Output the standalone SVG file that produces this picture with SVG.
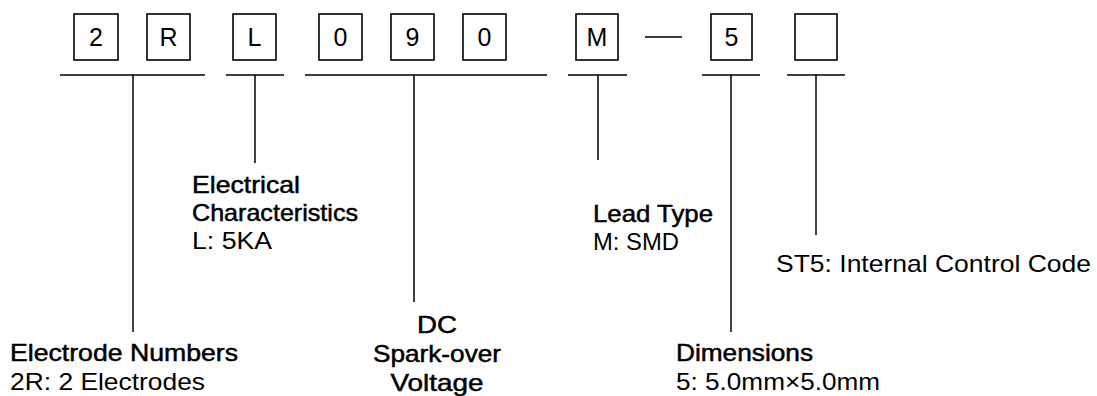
<svg xmlns="http://www.w3.org/2000/svg" width="1097" height="396" viewBox="0 0 1097 396">
<style>
.box{fill:none;stroke:#000;stroke-width:1.6}
.ln{stroke:#000;stroke-width:1.5;fill:none}
.code{font-family:"Liberation Sans",Arial,sans-serif;font-size:25px;fill:#000;text-anchor:middle}
.t{font-family:"Liberation Sans",Arial,sans-serif;font-size:24px;fill:#000;stroke:#000;stroke-width:0.5}
.v{font-family:"Liberation Sans",Arial,sans-serif;font-size:24px;fill:#000}
</style>
<rect width="1097" height="396" fill="#fff"/>
<g id="box-2"><rect class="box" x="74" y="14" width="44" height="46"/><text class="code" x="96" y="46">2</text></g>
<g id="box-R"><rect class="box" x="147" y="14" width="43" height="46"/><text class="code" x="168.5" y="46">R</text></g>
<g id="box-L"><rect class="box" x="233" y="14" width="43" height="46"/><text class="code" x="254.5" y="46">L</text></g>
<g id="box-0a"><rect class="box" x="319" y="14" width="43" height="46"/><text class="code" x="340.5" y="46">0</text></g>
<g id="box-9"><rect class="box" x="391" y="14" width="43" height="46"/><text class="code" x="412.5" y="46">9</text></g>
<g id="box-0b"><rect class="box" x="463" y="14" width="43" height="46"/><text class="code" x="484.5" y="46">0</text></g>
<g id="box-M"><rect class="box" x="576" y="14" width="42" height="46"/><text class="code" x="597" y="46">M</text></g>
<g id="box-5"><rect class="box" x="711" y="14" width="41" height="46"/><text class="code" x="731.5" y="46">5</text></g>
<g id="box-blank"><rect class="box" x="795" y="14" width="42" height="46"/></g>
<g id="connectors">
<line class="ln" x1="645" y1="37" x2="682" y2="37"/>
<line class="ln" x1="60" y1="75" x2="205" y2="75"/><line class="ln" x1="133" y1="75" x2="133" y2="332"/>
<line class="ln" x1="226" y1="75" x2="284" y2="75"/><line class="ln" x1="255" y1="75" x2="255" y2="163"/>
<line class="ln" x1="305" y1="75" x2="547" y2="75"/><line class="ln" x1="414" y1="75" x2="414" y2="302"/>
<line class="ln" x1="568" y1="75" x2="627" y2="75"/><line class="ln" x1="598" y1="75" x2="598" y2="160"/>
<line class="ln" x1="702" y1="75" x2="760" y2="75"/><line class="ln" x1="731" y1="75" x2="731" y2="332"/>
<line class="ln" x1="787" y1="75" x2="845" y2="75"/><line class="ln" x1="816" y1="75" x2="816" y2="235"/>
</g>
<g id="label-electrical"><text class="t" x="192" y="193" textLength="108" lengthAdjust="spacingAndGlyphs">Electrical</text><text class="t" x="192" y="221" textLength="166" lengthAdjust="spacingAndGlyphs">Characteristics</text><text class="v" x="192" y="249" textLength="80" lengthAdjust="spacingAndGlyphs">L: 5KA</text></g>
<g id="label-lead"><text class="t" x="593" y="222" textLength="120" lengthAdjust="spacingAndGlyphs">Lead Type</text><text class="v" x="593" y="250" textLength="86" lengthAdjust="spacingAndGlyphs">M: SMD</text></g>
<g id="label-st5"><text class="v" x="776" y="272" textLength="315" lengthAdjust="spacingAndGlyphs">ST5: Internal Control Code</text></g>
<g id="label-dc"><text class="t" x="417" y="333" textLength="40" lengthAdjust="spacingAndGlyphs">DC</text><text class="t" x="373" y="362" textLength="128" lengthAdjust="spacingAndGlyphs">Spark-over</text><text class="t" x="390.5" y="391" textLength="93" lengthAdjust="spacingAndGlyphs">Voltage</text></g>
<g id="label-electrode"><text class="t" x="10" y="361" textLength="228" lengthAdjust="spacingAndGlyphs">Electrode Numbers</text><text class="v" x="10" y="390" textLength="195" lengthAdjust="spacingAndGlyphs">2R: 2 Electrodes</text></g>
<g id="label-dim"><text class="t" x="676" y="361" textLength="137" lengthAdjust="spacingAndGlyphs">Dimensions</text><text class="v" x="676" y="390" textLength="204" lengthAdjust="spacingAndGlyphs">5: 5.0mm×5.0mm</text></g>
</svg>
